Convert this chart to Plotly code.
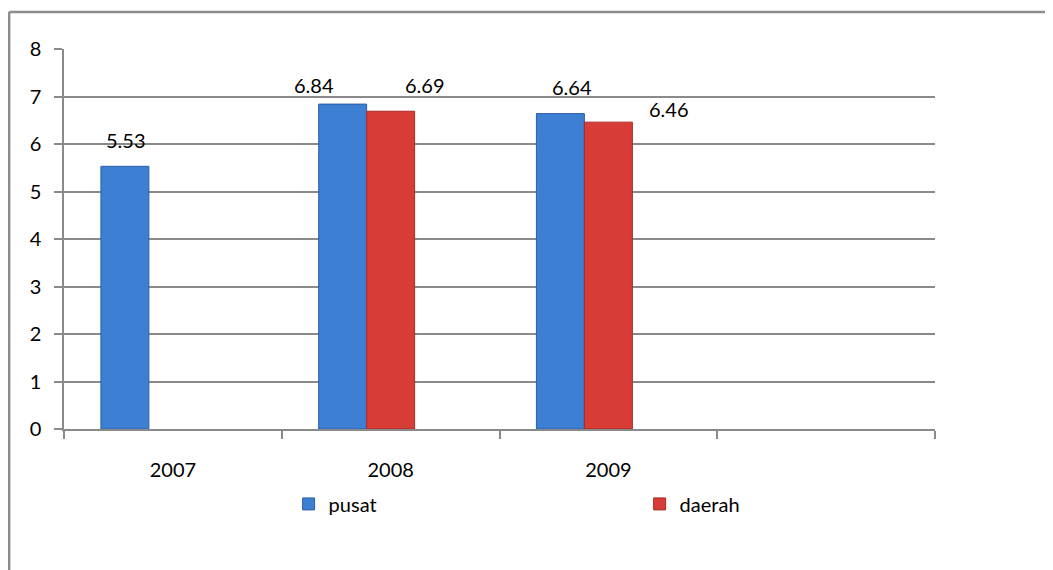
import plotly.graph_objects as go

# ---- data ----
categories = ["2007", "2008", "2009", " "]
pusat = [5.53, 6.84, 6.64, None]
daerah = [None, 6.69, 6.46, None]
ghost = [None, None, None, None]  # third (empty) series slot in the original chart

# label placement offsets (pixels) relative to category centre: (series, category index, dx, dy)
label_offsets = {
    ("pusat", 0): (-47, 26),
    ("pusat", 1): (-77, 19),
    ("daerah", 1): (34, 26),
    ("pusat", 2): (-36, 27),
    ("daerah", 2): (61, 13),
}

FONT = "Lato, Carlito, Calibri, sans-serif"
GRID = "#8a8a8a"
BLUE = "#3d7fd3"
RED = "#d83c37"

fig = go.Figure()
fig.add_trace(go.Bar(x=categories, y=pusat, name="pusat",
                     marker=dict(color=BLUE, line=dict(color="#2d5fa8", width=1))))
fig.add_trace(go.Bar(x=categories, y=daerah, name="daerah",
                     marker=dict(color=RED, line=dict(color="#a82b28", width=1))))
fig.add_trace(go.Bar(x=categories, y=ghost, name="", showlegend=False,
                     marker=dict(color="rgba(0,0,0,0)")))

annotations = []
series = {"pusat": pusat, "daerah": daerah}
for (name, idx), (dx, dy) in label_offsets.items():
    v = series[name][idx]
    annotations.append(dict(x=idx, y=v, xref="x", yref="y",
                            text=f"{v:.2f}", showarrow=False,
                            xshift=dx, yshift=dy, yanchor="middle",
                            font=dict(family=FONT, size=20, color="black")))

fig.update_layout(
    width=1053, height=570,
    margin=dict(l=56, r=126, t=41, b=149, autoexpand=False),
    paper_bgcolor="white", plot_bgcolor="white",
    barmode="group", bargap=0.339, bargroupgap=0,
    font=dict(family=FONT, size=20, color="black"),
    showlegend=True,
    legend=dict(orientation="h", xref="container", yref="container",
                x=0.2665, y=0.13, xanchor="left", yanchor="middle",
                entrywidth=306, entrywidthmode="pixels",
                font=dict(family=FONT, size=20, color="black"),
                bgcolor="rgba(0,0,0,0)"),
    annotations=annotations,
    shapes=[
        dict(type="line", xref="paper", yref="paper", x0=-0.063, x1=1.2,
             y0=1.0974, y1=1.0974, line=dict(color="#8c8c8c", width=2.5)),
        dict(type="line", xref="paper", yref="paper", x0=-0.063, x1=-0.063,
             y0=1.0974, y1=-0.5, line=dict(color="#8c8c8c", width=2.5)),
    ],
)

fig.update_xaxes(type="category", categoryorder="array", categoryarray=categories,
                 range=[-0.5, 3.5], tickangle=0,
                 showline=True, linecolor=GRID, linewidth=1.5,
                 ticks="outside", tickson="boundaries", ticklen=8,
                 tickcolor=GRID, tickwidth=1.5, showgrid=False,
                 ticklabelstandoff=22,
                 tickfont=dict(family=FONT, size=20, color="black"))
fig.update_yaxes(range=[0, 8], dtick=1, showgrid=True, gridcolor=GRID, gridwidth=1.5,
                 showline=True, linecolor=GRID, linewidth=1.5,
                 ticks="outside", ticklen=8, tickcolor=GRID, tickwidth=1.5,
                 zeroline=False, ticklabelstandoff=9,
                 tickfont=dict(family=FONT, size=20, color="black"))

fig.write_html("out.html")
